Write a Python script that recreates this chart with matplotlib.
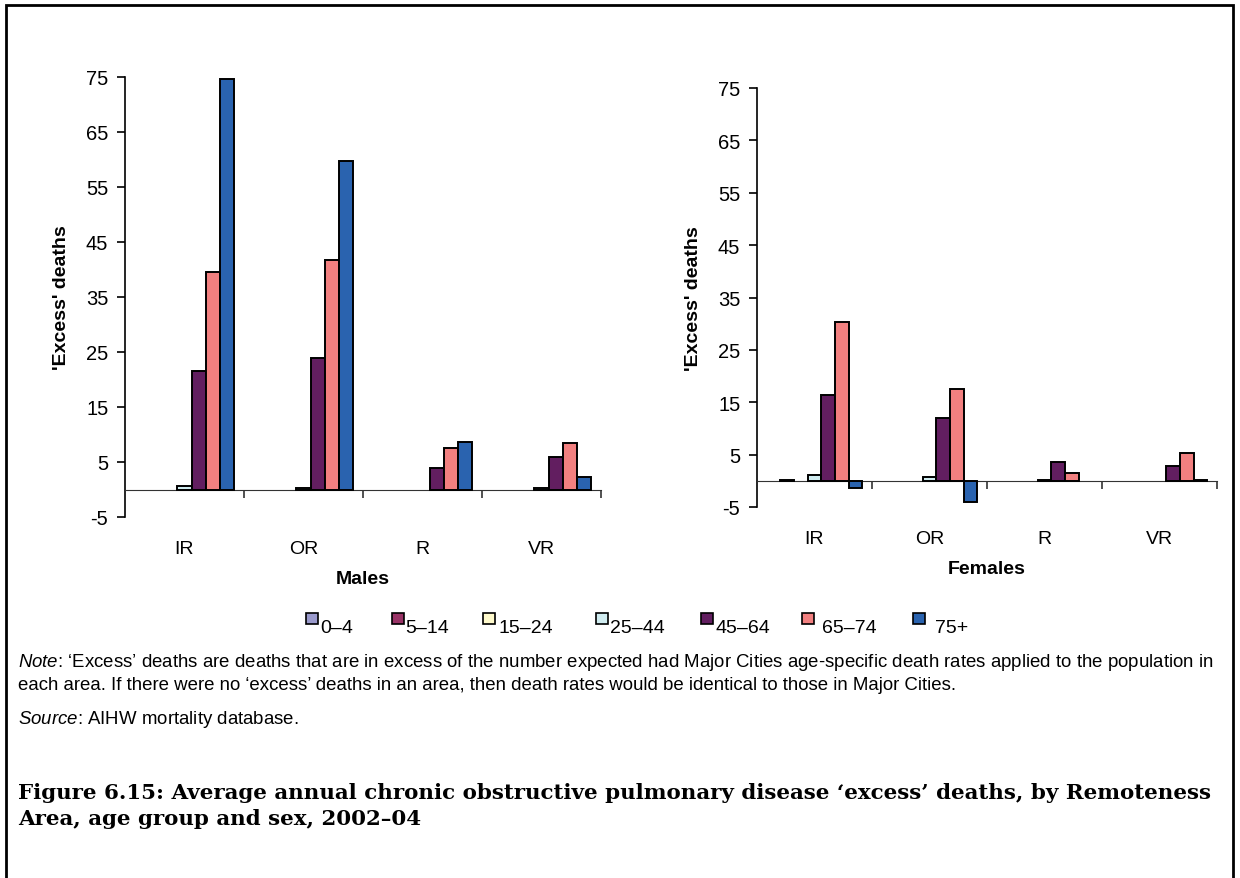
import numpy as np
import matplotlib
matplotlib.use('Agg')
import matplotlib.pyplot as plt
from matplotlib.patches import Rectangle

plt.rcParams['font.family'] = ['Liberation Sans', 'DejaVu Sans']
plt.rcParams['axes.unicode_minus'] = False
plt.rcParams['mathtext.fontset'] = 'custom'
plt.rcParams['mathtext.rm'] = 'Liberation Sans'
plt.rcParams['mathtext.it'] = 'Liberation Sans:italic'

# remoteness areas and age groups
areas = ['IR', 'OR', 'R', 'VR']
age_groups = ['0\u20134', '5\u201314', '15\u201324', '25\u201344', '45\u201364', '65\u201374', '75+']
colours = ['#9a9acc', '#993366', '#fffacc', '#d0ecf0', '#621e60', '#f28080', '#2a63af']

# 'excess' deaths, one list per age group, values per area (IR, OR, R, VR)
males = {
    '0\u20134':   [0, 0, 0, 0],
    '5\u201314':  [0, 0, 0, 0],
    '15\u201324': [0, 0, 0, 0],
    '25\u201344': [0.7, 0.3, 0, 0.2],
    '45\u201364': [21.5, 24.0, 4.0, 5.9],
    '65\u201374': [39.6, 41.8, 7.6, 8.4],
    '75+':        [74.6, 59.8, 8.7, 2.2],
}
females = {
    '0\u20134':   [0, 0, 0, 0],
    '5\u201314':  [0.2, 0, 0, 0],
    '15\u201324': [0, 0, 0, 0],
    '25\u201344': [1.2, 0.8, 0.2, 0],
    '45\u201364': [16.4, 11.9, 3.5, 2.9],
    '65\u201374': [30.3, 17.5, 1.5, 5.3],
    '75+':        [-1.3, -4.0, 0, 0.2],
}
yticks = [-5, 5, 15, 25, 35, 45, 55, 65, 75]

W, H = 1240, 879
fig = plt.figure(figsize=(W / 100, H / 100), dpi=100)


def px_box(left, right, top, bottom):
    # pixel box -> figure fraction [l, b, w, h]
    return [left / W, 1 - bottom / H, (right - left) / W, (bottom - top) / H]


def draw_panel(ax, data, xlabel):
    n = len(age_groups)
    bw = 1.0 / (n + 1.43)
    x0 = np.arange(len(areas)) + (1 - n * bw) / 2
    for i, g in enumerate(age_groups):
        vals = np.array(data[g], dtype=float)
        vals[vals == 0] = np.nan  # empty cells are not drawn
        ax.bar(x0 + i * bw, vals, width=bw, align='edge', color=colours[i],
               edgecolor='black', linewidth=1.4, zorder=3)
    ax.set_xlim(0, len(areas))
    ax.set_ylim(-5, 75)
    ax.set_yticks(yticks)
    ax.set_xticks(np.arange(1, len(areas) + 1))
    ax.set_xticklabels([])
    for s in ['top', 'right']:
        ax.spines[s].set_visible(False)
    ax.spines['bottom'].set_position(('data', 0))
    ax.spines['bottom'].set_color('#333333')
    ax.spines['left'].set_linewidth(1.2)
    ax.tick_params(axis='y', direction='out', length=6, width=1.2, labelsize=14.5, pad=6)
    ax.tick_params(axis='x', direction='out', length=6, width=1.2, color='#333333')
    for j, a in enumerate(areas):
        ax.annotate(a, xy=(j + 0.5, 0), xycoords=ax.get_xaxis_transform(),
                    xytext=(0, -23), textcoords='offset points',
                    ha='center', va='center', fontsize=14)
    ax.annotate(xlabel, xy=(0.5, 0), xycoords='axes fraction',
                xytext=(0, -44), textcoords='offset points',
                ha='center', va='center', fontsize=14, fontweight='bold')
    ax.annotate("'Excess' deaths", xy=(0, 0.5), xycoords='axes fraction',
                xytext=(-46, 0), textcoords='offset points', rotation=90,
                ha='center', va='center', fontsize=14, fontweight='bold')


ax_m = fig.add_axes(px_box(125, 601, 78, 518))
draw_panel(ax_m, males, 'Males')
ax_f = fig.add_axes(px_box(757, 1217, 89, 508))
draw_panel(ax_f, females, 'Females')

# legend, laid out in one row like the original
leg_marker_x = [306, 392, 483, 596, 701, 802, 913]
leg_text_x = [320, 405, 498, 610, 715, 822, 935]
for i, g in enumerate(age_groups):
    fig.add_artist(Rectangle((leg_marker_x[i] / W, 1 - 625 / H), 12 / W, 11 / H,
                             transform=fig.transFigure, facecolor=colours[i],
                             edgecolor='black', linewidth=1.2))
    fig.text(leg_text_x[i] / W, 1 - 629 / H, g, fontsize=14, ha='left', va='center')

# notes
note_fs = 13.45
fig.text(18 / W, 1 - 663 / H, "$\\it{Note}$: \u2018Excess\u2019 deaths are deaths that are in excess of the number "
         "expected had Major Cities age-specific death rates applied to the population in",
         fontsize=note_fs, ha='left', va='center')
fig.text(18 / W, 1 - 686 / H, "each area. If there were no \u2018excess\u2019 deaths in an area, then death rates "
         "would be identical to those in Major Cities.", fontsize=note_fs, ha='left', va='center')
fig.text(18 / W, 1 - 720 / H, "$\\it{Source}$: AIHW mortality database.", fontsize=note_fs,
         ha='left', va='center')

title = ("Figure 6.15: Average annual chronic obstructive pulmonary disease \u2018excess\u2019 deaths, by Remoteness\n"
         "Area, age group and sex, 2002\u201304")
fig.text(18 / W, 1 - 783 / H, title, fontsize=15.4, fontweight='bold', family='DejaVu Serif',
         ha='left', va='top', linespacing=1.4)

# frame round the figure
fig.add_artist(Rectangle((6 / W, -0.01), (1233 - 6) / W, 1 - 6 / H + 0.01,
                         transform=fig.transFigure, fill=False, edgecolor='black',
                         linewidth=2))

fig.savefig('out.png', dpi=100)
